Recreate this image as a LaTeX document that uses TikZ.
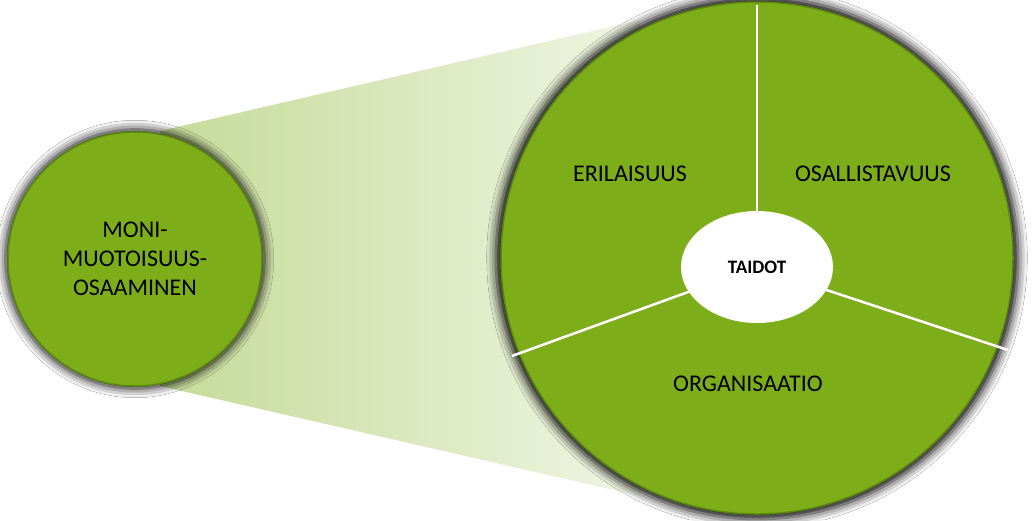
\documentclass[tikz,border=0pt]{standalone}
\usepackage{fontspec}
\setmainfont{Carlito}
\usetikzlibrary{shadows.blur,shapes.geometric}
\definecolor{lgreen}{HTML}{7DAE1A}
\definecolor{dgreen}{HTML}{5E8A0C}
\tikzset{
  disc/.style={circle,fill=lgreen,draw=dgreen,line width=1.5pt,inner sep=0pt,
    blur shadow={shadow xshift=0pt,shadow yshift=0pt,shadow scale=1.02,shadow blur radius=9pt,shadow opacity=100}},
  lbl/.style={font=\fontsize{24}{29}\selectfont,text=black,align=center},
  divider/.style={white,line width=2.5pt}
}
\begin{document}
\begin{tikzpicture}[x=1pt,y=-1pt]
\useasboundingbox (0,0) rectangle (1034,520);
\fill[white] (0,0) rectangle (1034,520);
% cone
\coordinate (ct) at (160,131);
\coordinate (cb) at (160,386);
\coordinate (bt) at (640,20);
\coordinate (bb) at (640,496);
\shade[left color=lgreen!45!white,right color=lgreen!12!white] (ct) -- (bt) -- (bb) -- (cb) -- cycle;
\node[disc,minimum size=512pt] (big) at (757,258) {};
\node[disc,minimum size=254pt] (small) at (135,259) {};
\node[lbl] (mon) at (small) {MONI-\\MUOTOISUUS-\\OSAAMINEN};
\coordinate (cen) at (757,267);
\coordinate (top) at (757,5);
\coordinate (ll) at (512,356);
\coordinate (lr) at (1008,350);
\draw[divider] (cen) -- (top);
\draw[divider] (cen) -- (ll);
\draw[divider] (cen) -- (lr);
\node[ellipse,fill=white,minimum width=152pt,minimum height=112pt] (taidot) at (cen) {};
\node[font=\bfseries\fontsize{19}{23}\selectfont] at (taidot) {TAIDOT};
\node[lbl] (eri) at (630,174) {ERILAISUUS};
\node[lbl] (osa) at (873,174) {OSALLISTAVUUS};
\node[lbl] (org) at (748,384) {ORGANISAATIO};
\end{tikzpicture}
\end{document}
